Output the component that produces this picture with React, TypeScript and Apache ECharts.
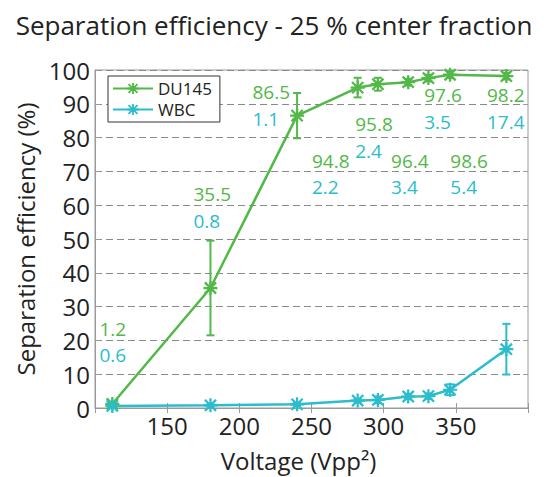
import React, { useEffect, useRef } from "react";
import * as echarts from "echarts";

const titleText = "Separation efficiency - 25 % center fraction";
const xAxisName = "Voltage (Vpp\u00B2)";
const yAxisName = "Separation efficiency (%)";
const seriesNames = ["DU145", "WBC"];

const voltage = [112, 180, 240, 282, 296, 317, 331, 346, 385];
const du145 = [1.2, 35.5, 86.5, 94.8, 95.8, 96.4, 97.6, 98.6, 98.2];
const du145Err = [0.5, 14, 6.7, 2.9, 1.9, 1.0, 1.0, 1.0, 1.0];
const wbc = [0.6, 0.8, 1.1, 2.2, 2.4, 3.4, 3.5, 5.4, 17.4];
const wbcErr = [0.3, 0.3, 0.4, 0.5, 1.0, 0.8, 0.8, 1.6, 7.5];

// annotation anchors (data coordinates, left edge / vertical centre of the green label)
const labelX = [103.1, 168.2, 209.1, 250.3, 280.3, 305.1, 328.1, 346.2, 371.6];
const labelY = [23.5, 63.2, 93.4, 73.2, 84.0, 73.2, 92.6, 73.2, 92.6];

const GREEN = "#52b848";
const CYAN = "#2bbdcb";
const FONT = "Open Sans";

const STAR =
  "path://M0,4.2H10V5.8H0Z M4.2,0H5.8V10H4.2Z M0.43,1.57L1.57,0.43L9.57,8.43L8.43,9.57Z M8.43,0.43L9.57,1.57L1.57,9.57L0.43,8.43Z";

function errorSeries(ys: number[], errs: number[], color: string) {
  return {
    type: "custom",
    xAxisIndex: 0,
    yAxisIndex: 0,
    z: 1,
    silent: true,
    data: voltage.map((v, i) => [v, ys[i], errs[i]]),
    renderItem: (params: any, api: any) => {
      const x = api.value(0);
      const y = api.value(1);
      const e = api.value(2);
      const top = api.coord([x, y + e]);
      const bot = api.coord([x, y - e]);
      const hw = 4;
      const style = { stroke: color, lineWidth: 2 };
      return {
        type: "group",
        children: [
          { type: "line", shape: { x1: top[0], y1: top[1], x2: bot[0], y2: bot[1] }, style },
          { type: "line", shape: { x1: top[0] - hw, y1: top[1], x2: top[0] + hw, y2: top[1] }, style },
          { type: "line", shape: { x1: bot[0] - hw, y1: bot[1], x2: bot[0] + hw, y2: bot[1] }, style },
        ],
      };
    },
  };
}

export default function App() {
  const ref = useRef<HTMLDivElement>(null);
  useEffect(() => {
    if (!ref.current) return;
    const chart = echarts.init(ref.current, undefined, { renderer: "svg" });
    const axisColor = "#9a9a9a";
    const option: any = {
      animation: false,
      backgroundColor: "#ffffff",
      title: {
        text: titleText,
        left: "center",
        top: 7,
        textStyle: { fontFamily: FONT, fontSize: 26, fontWeight: "normal", color: "#222" },
      },
      grid: {
        left: 95,
        right: 20,
        top: 70,
        bottom: 67,
        show: true,
        borderColor: axisColor,
        borderWidth: 1,
        backgroundColor: "transparent",
      },
      legend: {
        orient: "vertical",
        left: 108,
        top: 76,
        padding: [4, 8, 4, 4],
        itemGap: 4,
        itemWidth: 40,
        itemHeight: 14,
        borderColor: "#333",
        borderWidth: 1,
        backgroundColor: "#fff",
        textStyle: { fontFamily: FONT, fontSize: 17, lineHeight: 17, color: "#222" },
        data: seriesNames,
      },
      xAxis: [
        {
          type: "value",
          min: 100,
          max: 400,
          interval: 50,
          name: xAxisName,
          nameLocation: "middle",
          nameGap: 40,
          nameTextStyle: { fontFamily: FONT, fontSize: 24, color: "#222", padding: [0, 26, 0, 0] },
          axisLine: { lineStyle: { color: axisColor } },
          axisTick: { inside: true, length: 5, lineStyle: { color: axisColor } },
          axisLabel: {
            fontFamily: FONT,
            fontSize: 24,
            color: "#222",
            margin: 5,
            formatter: (v: number) => (v === 100 || v === 400 ? "" : String(v)),
          },
          splitLine: { show: false },
        },
        {
          type: "value",
          position: "top",
          min: 100,
          max: 400,
          interval: 50,
          axisLine: { show: false },
          axisTick: { inside: true, length: 5, lineStyle: { color: axisColor } },
          axisLabel: { show: false },
          splitLine: { show: false },
        },
      ],
      yAxis: [
        {
          type: "value",
          min: 0,
          max: 100,
          interval: 10,
          name: yAxisName,
          nameLocation: "middle",
          nameGap: 58,
          nameTextStyle: { fontFamily: FONT, fontSize: 24, color: "#222" },
          axisLine: { show: true, lineStyle: { color: axisColor } },
          axisTick: { show: true, inside: true, length: 5, lineStyle: { color: axisColor } },
          axisLabel: { fontFamily: FONT, fontSize: 24, color: "#222", margin: 5 },
          splitLine: { show: true, lineStyle: { color: "#8a8a8a", type: [7, 4], width: 1 } },
        },
        {
          type: "value",
          position: "right",
          min: 0,
          max: 100,
          interval: 10,
          axisLine: { show: false },
          axisTick: { show: true, inside: true, length: 5, lineStyle: { color: axisColor } },
          axisLabel: { show: false },
          splitLine: { show: false },
        },
      ],
      series: [
        errorSeries(du145, du145Err, GREEN),
        errorSeries(wbc, wbcErr, CYAN),
        {
          name: seriesNames[0],
          type: "line",
          z: 3,
          data: voltage.map((v, i) => [v, du145[i]]),
          symbol: STAR,
          symbolSize: 14,
          showAllSymbol: true,
          lineStyle: { color: GREEN, width: 2.5 },
          itemStyle: { color: GREEN },
        },
        {
          name: seriesNames[1],
          type: "line",
          z: 3,
          data: voltage.map((v, i) => [v, wbc[i]]),
          symbol: STAR,
          symbolSize: 14,
          showAllSymbol: true,
          lineStyle: { color: CYAN, width: 2.5 },
          itemStyle: { color: CYAN },
        },
        {
          type: "custom",
          z: 4,
          silent: true,
          data: labelX.map((lx, i) => [lx, labelY[i], du145[i], wbc[i]]),
          renderItem: (params: any, api: any) => {
            const p = api.coord([api.value(0), api.value(1)]);
            const i = params.dataIndex;
            return {
              type: "group",
              children: [
                {
                  type: "text",
                  x: p[0],
                  y: p[1],
                  style: {
                    text: String(du145[i]),
                    fill: GREEN,
                    font: `19px "${FONT}"`,
                    align: "left",
                    verticalAlign: "middle",
                  },
                },
                {
                  type: "text",
                  x: p[0],
                  y: p[1] + 26.5,
                  style: {
                    text: String(wbc[i]),
                    fill: CYAN,
                    font: `19px "${FONT}"`,
                    align: "left",
                    verticalAlign: "middle",
                  },
                },
              ],
            };
          },
        },
      ],
    };
    chart.setOption(option);
    return () => chart.dispose();
  }, []);
  return (
    <div
      ref={ref}
      style={{ position: "fixed", left: 0, top: 0, width: 548, height: 477 }}
    />
  );
}
